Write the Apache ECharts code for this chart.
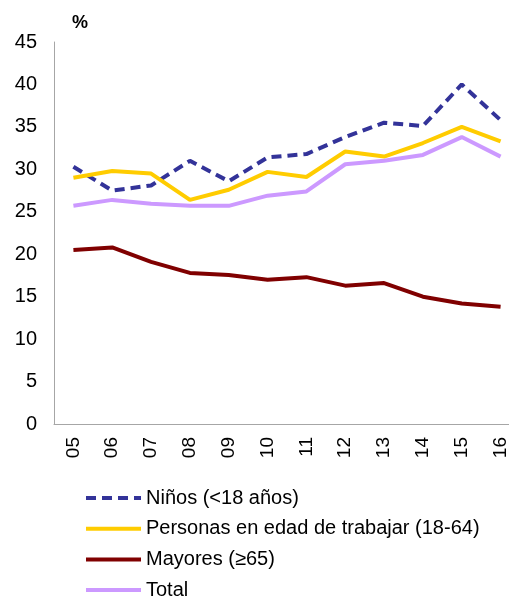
<!DOCTYPE html>
<html>
<head>
<meta charset="utf-8">
<style>
  html, body { margin: 0; padding: 0; background: #fff; }
  #chart { width: 509px; height: 598px; }
</style>
<script src="https://cdn.jsdelivr.net/npm/echarts@6/dist/echarts.min.js"></script>
</head>
<body>
<div id="chart"></div>
<script>
const years = ["05", "06", "07", "08", "09", "10", "11", "12", "13", "14", "15", "16"];
const ninos = [30.3, 27.5, 28.1, 31.0, 28.6, 31.4, 31.8, 33.8, 35.5, 35.1, 40.0, 35.8];
const personas = [29.0, 29.8, 29.5, 26.4, 27.6, 29.7, 29.1, 32.1, 31.5, 33.1, 35.0, 33.3];
const mayores = [20.5, 20.8, 19.1, 17.8, 17.55, 17.0, 17.3, 16.3, 16.6, 15.0, 14.2, 13.8];
const total = [25.7, 26.4, 25.95, 25.7, 25.7, 26.9, 27.4, 30.6, 31.0, 31.7, 33.8, 31.5];

const fontFamily = "Liberation Sans, Arial, sans-serif";
const chart = echarts.init(document.getElementById("chart"));

function lineSeries(name, data, color, dashed) {
  return {
    name: name,
    type: "line",
    data: data,
    symbol: "none",
    lineStyle: {
      color: color,
      width: 4,
      type: dashed ? [10, 6] : "solid",
    },
    itemStyle: { color: color },
  };
}

chart.setOption({
  animation: false,
  textStyle: { fontFamily: fontFamily },
  grid: {
    left: 54,
    top: 42,
    width: 466,
    height: 382,
    outerBoundsMode: "none",
    containLabel: false,
  },
  legend: {
    orient: "vertical",
    left: 84,
    top: 488,
    height: 140,
    padding: 0,
    itemWidth: 55,
    itemHeight: 14,
    itemGap: 10.7,
    itemStyle: { opacity: 0 },
    lineStyle: { width: 4 },
    textStyle: { fontSize: 20, color: "#000", fontFamily: fontFamily },
    data: ["Niños (<18 años)", "Personas en edad de trabajar (18-64)", "Mayores (≥65)", "Total"],
  },
  xAxis: {
    type: "category",
    data: years,
    boundaryGap: true,
    axisLine: { lineStyle: { color: "#a6a6a6", width: 1 } },
    axisTick: { show: false },
    axisLabel: {
      rotate: 90,
      fontSize: 19,
      color: "#000",
      margin: 13,
      fontFamily: fontFamily,
    },
  },
  yAxis: {
    type: "value",
    min: 0,
    max: 45,
    interval: 5,
    name: "%",
    nameLocation: "end",
    nameGap: 10,
    nameTextStyle: {
      fontSize: 18,
      fontWeight: "bold",
      color: "#000",
      align: "left",
      padding: [0, 0, 0, 18],
      fontFamily: fontFamily,
    },
    axisLine: { show: true, lineStyle: { color: "#a6a6a6", width: 1 } },
    axisTick: { show: false },
    splitLine: { show: false },
    axisLabel: {
      fontSize: 20,
      color: "#000",
      margin: 17,
      fontFamily: fontFamily,
    },
  },
  series: [
    lineSeries("Niños (<18 años)", ninos, "#333399", true),
    lineSeries("Personas en edad de trabajar (18-64)", personas, "#ffcc00", false),
    lineSeries("Mayores (≥65)", mayores, "#800000", false),
    lineSeries("Total", total, "#cc99ff", false),
  ],
});
</script>
</body>
</html>
